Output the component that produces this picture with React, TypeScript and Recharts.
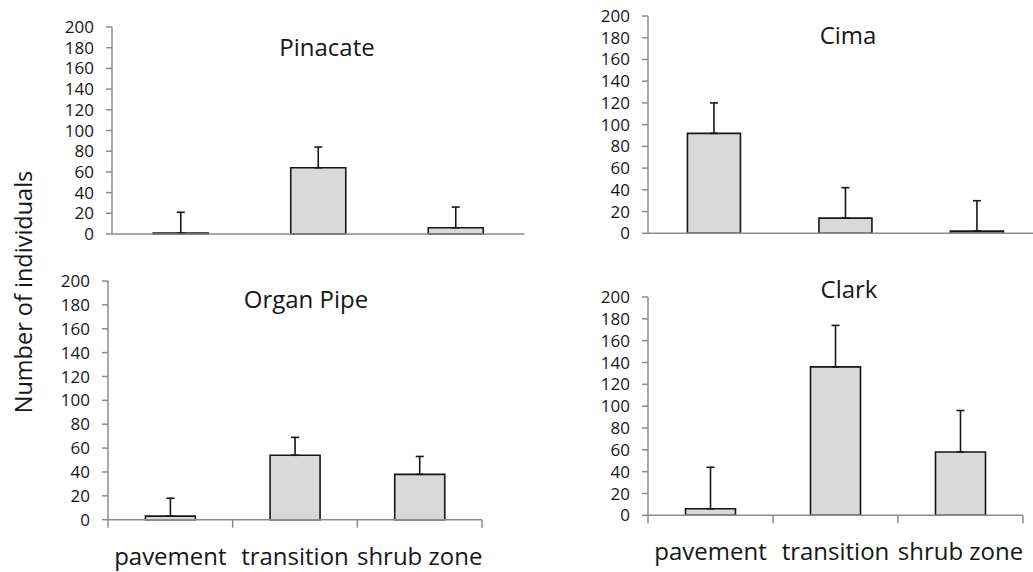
import React from 'react';
import { BarChart, Bar, XAxis, YAxis, ErrorBar } from 'recharts';

// categories along x, shared by all four sites
const categories = ['pavement', 'transition', 'shrub zone'];
const yTicks = [0, 20, 40, 60, 80, 100, 120, 140, 160, 180, 200];

// mean number of individuals and upper error per site
const pinacateMeans = [1, 64, 6];
const pinacateErrors = [20, 20, 20];
const cimaMeans = [92, 14, 2];
const cimaErrors = [28, 28, 28];
const organPipeMeans = [3, 54, 38];
const organPipeErrors = [15, 15, 15];
const clarkMeans = [6, 136, 58];
const clarkErrors = [38, 38, 38];

const AXIS = '#8c8c8c';
const INK = '#161616';
const FONT = '"Open Sans", sans-serif';

interface PanelProps {
  means: number[];
  errors: number[];
  left: number;
  top: number;
  plotW: number;
  plotH: number;
  showCategories: boolean;
}

const Panel: React.FC<PanelProps> = ({ means, errors, left, top, plotW, plotH, showCategories }) => {
  const data = categories.map((name, i) => ({
    name,
    mean: means[i],
    err: [0, errors[i]],
  }));
  const yAxisW = 70;
  const mTop = 20;
  const mRight = 10;
  const xAxisH = 60;
  const width = yAxisW + plotW + mRight;
  const height = mTop + plotH + xAxisH;
  const band = plotW / categories.length;
  const y0 = mTop + plotH;

  // category label plus tick marks on the band edges
  const renderTick = (props: any) => {
    const { x, index, payload } = props;
    const lx = x - band / 2;
    return (
      <g>
        <line x1={lx} y1={y0} x2={lx} y2={y0 + 8} stroke={AXIS} strokeWidth={1.5} />
        {index === categories.length - 1 && (
          <line x1={x + band / 2} y1={y0} x2={x + band / 2} y2={y0 + 8} stroke={AXIS} strokeWidth={1.5} />
        )}
        <text x={x} y={y0 + 45} textAnchor="middle" fill={INK} fontSize={24} fontFamily={FONT}>
          {payload.value}
        </text>
      </g>
    );
  };

  return (
    <div style={{ position: 'absolute', left: left - yAxisW, top: top - mTop }}>
      <BarChart
        width={width}
        height={height}
        data={data}
        margin={{ top: mTop, right: mRight, bottom: 0, left: 0 }}
        barCategoryGap="30%"
      >
        <XAxis
          dataKey="name"
          axisLine={{ stroke: AXIS, strokeWidth: 1.5 }}
          tickLine={false}
          tick={showCategories ? renderTick : false}
          height={xAxisH}
          interval={0}
        />
        <YAxis
          domain={[0, 200]}
          ticks={yTicks}
          width={yAxisW}
          axisLine={{ stroke: AXIS, strokeWidth: 1.5 }}
          tickLine={{ stroke: AXIS, strokeWidth: 1.5 }}
          tickSize={6}
          tickMargin={12}
          tick={{ fill: INK, fontSize: 17, fontFamily: FONT }}
          interval={0}
        />
        <Bar dataKey="mean" fill="#d9d9d9" stroke={INK} strokeWidth={1.6} isAnimationActive={false}>
          <ErrorBar dataKey="err" width={4} stroke={INK} strokeWidth={1.6} direction="y" />
        </Bar>
      </BarChart>
    </div>
  );
};

export default function App() {
  return (
    <div
      style={{
        position: 'absolute',
        left: 0,
        top: 0,
        width: 1033,
        height: 572,
        overflow: 'hidden',
        background: '#fff',
        fontFamily: FONT,
      }}
    >
      <Panel means={pinacateMeans} errors={pinacateErrors} left={111.7} top={27.3} plotW={412.5} plotH={207} showCategories={false} />
      <Panel means={cimaMeans} errors={cimaErrors} left={647.7} top={15.7} plotW={394.5} plotH={217.3} showCategories={false} />
      <Panel means={organPipeMeans} errors={organPipeErrors} left={107.7} top={281.3} plotW={374} plotH={238.7} showCategories={true} />
      <Panel means={clarkMeans} errors={clarkErrors} left={648.3} top={297} plotW={375} plotH={218.3} showCategories={true} />
      <svg
        width={1033}
        height={572}
        style={{ position: 'absolute', left: 0, top: 0, pointerEvents: 'none' }}
      >
        <g fill={INK} fontFamily={FONT} fontSize={24} textAnchor="middle">
          <text x={327} y={56}>Pinacate</text>
          <text x={848} y={44}>Cima</text>
          <text x={306} y={308}>Organ Pipe</text>
          <text x={849} y={298}>Clark</text>
        </g>
        <text
          x={0}
          y={0}
          transform="translate(32, 292) rotate(-90)"
          fill={INK}
          fontFamily={FONT}
          fontSize={23.5}
          textAnchor="middle"
        >
          Number of individuals
        </text>
      </svg>
    </div>
  );
}
